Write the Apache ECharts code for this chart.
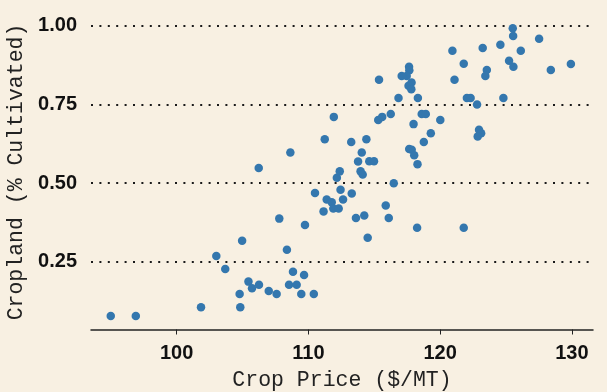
<!DOCTYPE html>
<html>
<head>
<meta charset="utf-8">
<script src="https://cdn.jsdelivr.net/npm/echarts@6/dist/echarts.min.js"></script>
<style>
  html, body { margin: 0; padding: 0; background: #f8f0e2; }
</style>
</head>
<body>
<div id="scatterChart" style="width: 607px; height: 392px;"></div>
<script>
// crop price ($/MT) for each region
const cropPrice = [
  95.0, 96.9, 101.85, 104.83, 104.78, 105.45, 105.72, 106.25, 106.99, 107.59,
  108.53, 109.11, 109.46, 110.41, 108.83, 109.67, 108.37, 103.01, 103.69, 104.97,
  107.79, 109.74, 106.23, 110.5, 111.15, 111.39, 111.77, 111.89, 112.3, 112.16,
  112.38, 112.44, 112.63, 113.29, 111.93, 111.24, 108.63, 113.25, 114.4, 114.05,
  113.77, 114.62, 114.98, 113.96, 114.12, 116.48, 115.3, 115.6, 116.25, 117.98,
  118.6, 118.91, 117.65, 117.84, 118.03, 118.28, 118.76, 119.29, 120.01, 122.95,
  123.11, 122.85, 115.87, 113.61, 114.24, 116.1, 114.5, 118.25, 121.79, 116.84,
  118.31, 122.03, 122.31, 124.8, 122.8, 115.36, 121.09, 117.64, 117.66, 117.08,
  117.46, 117.83, 117.6, 117.81, 121.79, 123.54, 123.43, 125.23, 125.56, 128.4,
  129.92, 120.93, 123.23, 126.12, 124.57, 127.51, 125.54, 125.51
]
// share of cropland cultivated
const cropland = [
  0.078, 0.078, 0.106, 0.106, 0.148, 0.187, 0.166, 0.177, 0.157, 0.148,
  0.177, 0.177, 0.148, 0.148, 0.218, 0.208, 0.288, 0.268, 0.227, 0.317,
  0.387, 0.367, 0.548, 0.468, 0.41, 0.448, 0.439, 0.419, 0.419, 0.517,
  0.537, 0.479, 0.448, 0.467, 0.71, 0.639, 0.597, 0.63, 0.639, 0.597,
  0.568, 0.569, 0.569, 0.537, 0.527, 0.499, 0.7, 0.71, 0.719, 0.687,
  0.719, 0.719, 0.608, 0.606, 0.588, 0.56, 0.63, 0.658, 0.7, 0.669,
  0.658, 0.648, 0.429, 0.389, 0.397, 0.389, 0.326, 0.358, 0.358, 0.77,
  0.77, 0.77, 0.77, 0.77, 0.749, 0.828, 0.828, 0.869, 0.858, 0.84,
  0.84, 0.819, 0.809, 0.798, 0.879, 0.859, 0.84, 0.888, 0.869, 0.859,
  0.878, 0.92, 0.929, 0.92, 0.939, 0.958, 0.967, 0.991
]
const xTicks = [100, 110, 120, 130]
const yTicks = [0.25, 0.5, 0.75, 1.0]

const points = cropPrice.map((p, i) => [p, cropland[i]])

const myChart = echarts.init(document.getElementById('scatterChart'))

const option = {
  backgroundColor: '#f8f0e2',
  animation: false,
  grid: {
    left: 91,
    right: 14,
    top: 14.5,
    bottom: 62.5,
    outerBoundsMode: 'none',
  },
  xAxis: {
    type: 'value',
    min: 93.5,
    max: 131.6,
    name: 'Crop Price ($/MT)',
    nameLocation: 'middle',
    nameGap: 40,
    nameTextStyle: {
      fontFamily: 'Liberation Mono',
      fontSize: 21.5,
      color: '#222',
    },
    axisLine: {
      lineStyle: { color: '#222', width: 1.5 },
    },
    axisTick: {
      show: true,
      length: 5,
      customValues: xTicks,
      lineStyle: { color: '#222', width: 1 },
    },
    axisLabel: {
      customValues: xTicks,
      margin: 14,
      fontFamily: 'Liberation Sans',
      fontWeight: 'bold',
      fontSize: 20,
      color: '#111',
    },
    splitLine: { show: false },
  },
  yAxis: {
    type: 'value',
    min: 0.035,
    max: 1.035,
    name: 'Cropland (% Cultivated)',
    nameLocation: 'middle',
    nameGap: 56,
    nameTextStyle: {
      fontFamily: 'Liberation Mono',
      fontSize: 21.5,
      color: '#222',
    },
    axisLine: { show: false },
    axisTick: {
      show: false,
      customValues: yTicks,
    },
    axisLabel: {
      customValues: yTicks,
      margin: 14,
      fontFamily: 'Liberation Sans',
      fontWeight: 'bold',
      fontSize: 20,
      color: '#111',
      formatter: (v) => v.toFixed(2),
    },
    splitLine: {
      show: true,
      lineStyle: {
        color: '#1a1a1a',
        width: 2,
        type: [2, 6.4],
      },
    },
  },
  series: [
    {
      type: 'scatter',
      data: points,
      symbol: 'circle',
      symbolSize: 8.5,
      itemStyle: {
        color: '#3477ae',
        opacity: 1,
      },
    },
  ],
}

myChart.setOption(option)
</script>
</body>
</html>
